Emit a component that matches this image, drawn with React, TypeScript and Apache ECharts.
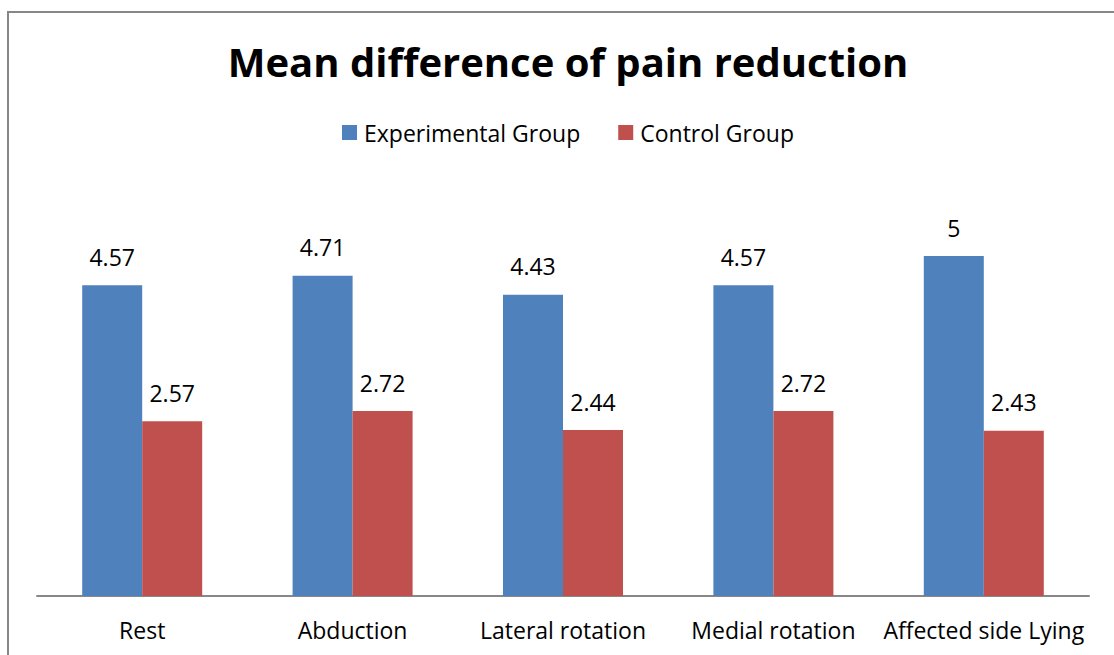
import React, { useEffect, useRef } from "react";
import * as echarts from "echarts";

const categories = ["Rest", "Abduction", "Lateral rotation", "Medial rotation", "Affected side Lying"];
const experimental = [4.57, 4.71, 4.43, 4.57, 5];
const control = [2.57, 2.72, 2.44, 2.72, 2.43];
const seriesNames = ["Experimental Group", "Control Group"];

const FONT = "'Open Sans', sans-serif";

export default function App() {
  const ref = useRef<HTMLDivElement>(null);
  useEffect(() => {
    const chart = echarts.init(ref.current!, null, { renderer: "svg" });
    const labelStyle = {
      show: true,
      position: "top" as const,
      distance: 17,
      color: "#000",
      fontSize: 23,
      fontFamily: FONT,
    };
    chart.setOption({
      animation: false,
      backgroundColor: "transparent",
      title: {
        text: "Mean difference of pain reduction",
        left: 563,
        textAlign: "center",
        top: 36,
        textStyle: { fontSize: 40, fontWeight: "bold", color: "#000", fontFamily: FONT },
      },
      legend: {
        top: 116,
        left: 337,
        itemWidth: 15,
        itemHeight: 15,
        itemGap: 38,
        icon: "rect",
        textStyle: { fontSize: 23, color: "#000", fontFamily: FONT, padding: [0, 0, 0, 2] },
        data: seriesNames,
      },
      grid: { left: 37, right: 25, top: 188, bottom: 59, containLabel: false },
      xAxis: {
        type: "category",
        data: categories,
        axisLine: { lineStyle: { color: "#888", width: 2 } },
        axisTick: { show: false },
        axisLabel: { fontSize: 23, color: "#000", fontFamily: FONT, margin: 22, interval: 0 },
      },
      yAxis: {
        type: "value",
        min: 0,
        max: 6,
        show: false,
        splitLine: { show: false },
      },
      series: [
        {
          name: seriesNames[0],
          type: "bar",
          data: experimental,
          barWidth: 60,
          barGap: "0%",
          itemStyle: { color: "#4F81BD" },
          label: labelStyle,
        },
        {
          name: seriesNames[1],
          type: "bar",
          data: control,
          barWidth: 60,
          barGap: "0%",
          itemStyle: { color: "#C0504D" },
          label: labelStyle,
        },
      ],
    });
    return () => chart.dispose();
  }, []);
  return (
    <div style={{ position: "fixed", left: 0, top: 0, width: 1114, height: 655, overflow: "hidden", background: "#fff" }}>
      <div
        style={{
          position: "absolute",
          left: 7,
          top: 11,
          width: 1200,
          height: 800,
          borderLeft: "2px solid #878787",
          borderTop: "2px solid #878787",
        }}
      />
      <div ref={ref} style={{ position: "absolute", left: 0, top: 0, width: 1114, height: 655 }} />
    </div>
  );
}
